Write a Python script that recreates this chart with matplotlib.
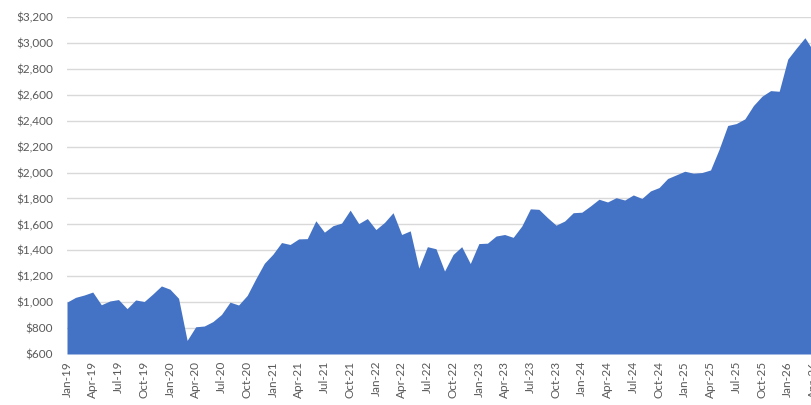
import pandas as pd
import matplotlib
matplotlib.use("Agg")
from matplotlib import pyplot as plt
from matplotlib.ticker import FuncFormatter, MultipleLocator

# monthly values, Jan-19 .. Apr-26
values_2019 = [1000, 1037, 1055, 1078, 980, 1009, 1020, 950, 1017, 1005, 1063, 1125]
values_2020 = [1100, 1030, 705, 810, 816, 850, 905, 1000, 978, 1052, 1180, 1300]
values_2021 = [1370, 1460, 1445, 1488, 1490, 1628, 1540, 1590, 1610, 1710, 1606, 1645]
values_2022 = [1560, 1615, 1690, 1522, 1550, 1262, 1428, 1412, 1240, 1368, 1428, 1298]
values_2023 = [1452, 1455, 1510, 1522, 1500, 1587, 1720, 1716, 1652, 1594, 1626, 1690]
values_2024 = [1694, 1742, 1794, 1773, 1806, 1788, 1827, 1800, 1858, 1884, 1954, 1982]
values_2025 = [2010, 1995, 2000, 2020, 2180, 2363, 2378, 2414, 2517, 2589, 2632, 2627]
values_2026 = [2875, 2960, 3040, 2936]

values = (values_2019 + values_2020 + values_2021 + values_2022 +
          values_2023 + values_2024 + values_2025 + values_2026)
months = pd.date_range("2019-01-01", periods=len(values), freq="MS")
month_labels = [m.strftime("%b-%y") for m in months]

plt.rcParams["font.family"] = ["Lato", "DejaVu Sans"]

fig = plt.figure(figsize=(8.12, 4.05), dpi=100)
ax = fig.add_axes([67 / 812, 1 - 354 / 405, (813.5 - 67) / 812, (354 - 17) / 405])

x = list(range(len(values)))
ax.fill_between(x, 600, values, color="#4472C4", linewidth=0, zorder=2)

ax.set_xlim(0, len(values) - 1)
ax.set_ylim(600, 3200)
ax.yaxis.set_major_locator(MultipleLocator(200))
ax.yaxis.set_major_formatter(FuncFormatter(lambda v, p: "${:,.0f}".format(v)))
ax.grid(axis="y", color="#D9D9D9", linewidth=1, zorder=0)
ax.set_axisbelow(True)

ax.set_xticks(x[::3])
ax.set_xticklabels(month_labels[::3], rotation=90)

for s in ax.spines.values():
    s.set_visible(False)
ax.tick_params(axis="y", length=0, pad=10, labelsize=8.5, labelcolor="#595959")
ax.tick_params(axis="x", length=0, pad=5, labelsize=8.5, labelcolor="#595959")

fig.savefig("out.png", dpi=100)
